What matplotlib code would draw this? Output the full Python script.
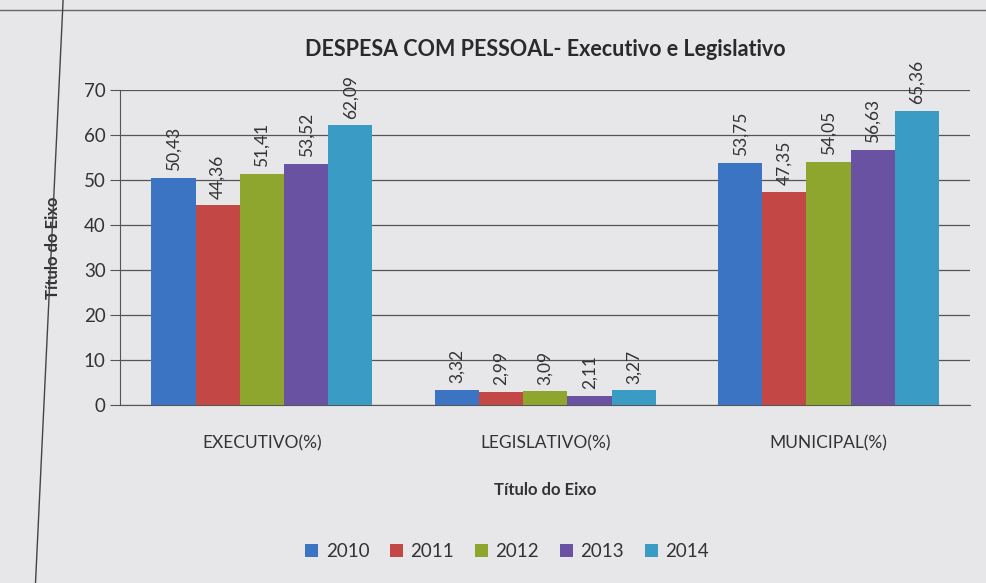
import matplotlib.pyplot as plt
import numpy as np

categories = ["EXECUTIVO(%)", "LEGISLATIVO(%)", "MUNICIPAL(%)"]
years = ["2010", "2011", "2012", "2013", "2014"]
values = {
    "2010": [50.43, 3.32, 53.75],
    "2011": [44.36, 2.99, 47.35],
    "2012": [51.41, 3.09, 54.05],
    "2013": [53.52, 2.11, 56.63],
    "2014": [62.09, 3.27, 65.36],
}
colors = ["#3b74c2", "#c24745", "#8ea52e", "#6a52a3", "#3a9cc4"]

plt.rcParams["font.family"] = ["Lato", "DejaVu Sans"]
bg = "#e7e7e9"

fig = plt.figure(figsize=(9.86, 5.83), dpi=100, facecolor=bg)
ax = fig.add_axes([0.122, 0.305, 0.862, 0.541], facecolor=bg)

x = np.arange(len(categories))
w = 0.156
for i, yr in enumerate(years):
    pos = x + (i - 2) * w
    bars = ax.bar(pos, values[yr], width=w, color=colors[i], label=yr, zorder=3)
    for b, v in zip(bars, values[yr]):
        ax.text(b.get_x() + b.get_width() / 2, v + 1.5, f"{v:.2f}".replace(".", ","),
                rotation=90, ha="center", va="bottom", fontsize=12.5, color="#333333")

ax.set_xlim(-0.5, 2.5)
ax.set_ylim(0, 70)
ax.set_yticks(range(0, 71, 10))
ax.yaxis.grid(True, color="#555555", linewidth=0.9, zorder=0)
ax.set_xticks(x)
ax.set_xticklabels(categories, fontsize=12.5, color="#333333")
ax.tick_params(axis="x", length=0, pad=22)
ax.tick_params(axis="y", length=7, color="#555555", labelsize=13.5, labelcolor="#333333")
for s in ["top", "right"]:
    ax.spines[s].set_visible(False)
ax.spines["left"].set_color("#555555")
ax.spines["bottom"].set_color("#555555")

ax.set_xlabel("Título do Eixo", fontsize=12, fontweight="bold", color="#333333", labelpad=22)
ax.set_ylabel("Título do Eixo", fontsize=12, fontweight="bold", color="#333333")
ax.yaxis.set_label_coords(-0.07, 0.5)
ax.set_title("DESPESA COM PESSOAL- Executivo e Legislativo", fontsize=15.5,
             fontweight="bold", color="#2a2a2a", pad=24)

ax.legend(loc="upper center", bbox_to_anchor=(0.455, -0.385), ncol=5, frameon=False,
          fontsize=13.5, handlelength=0.7, handleheight=0.7, columnspacing=1.1,
          handletextpad=0.4, labelcolor="#333333")

# page border lines visible in the photo
fig.add_artist(plt.Line2D([0.0, 1.0], [0.983, 0.983], color="#666666", linewidth=1))
fig.add_artist(plt.Line2D([0.064, 0.036], [1.0, 0.0], color="#444444", linewidth=1))

fig.savefig("out.png", dpi=100, facecolor=bg)
